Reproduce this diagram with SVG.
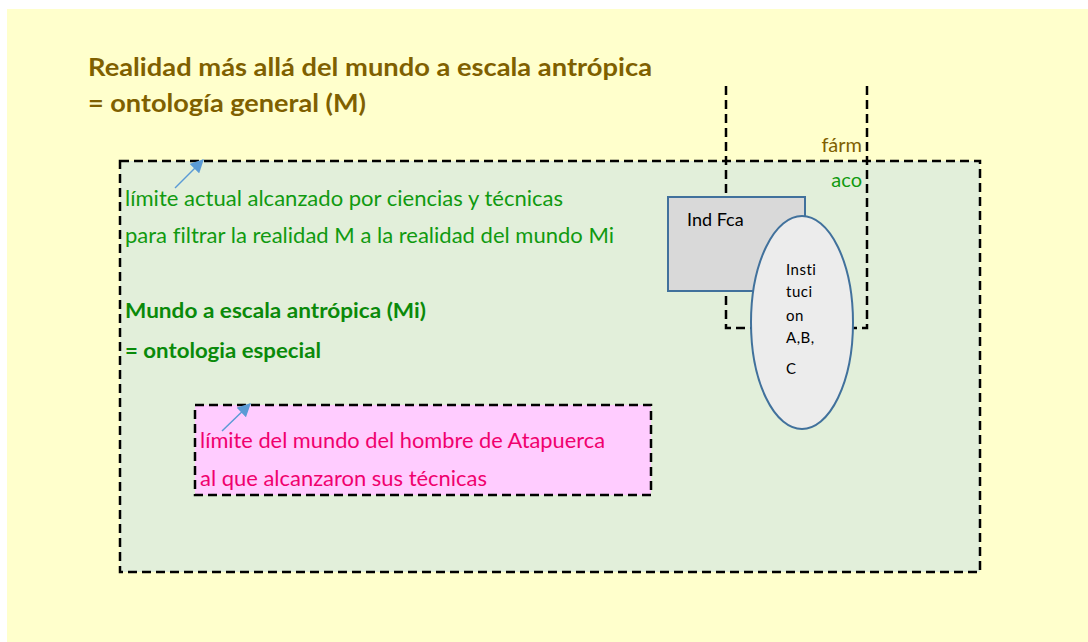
<svg xmlns="http://www.w3.org/2000/svg" width="1088" height="642" viewBox="0 0 1088 642">
<style>
.dash{fill:none;stroke:#000;stroke-width:2.5;stroke-dasharray:9 5}
.t{font-family:Lato,"Liberation Sans",sans-serif;font-variant-ligatures:none}
.title{font-size:25px;font-weight:bold;fill:#7f6000}
.g{font-size:21px;fill:#109a10}
.gb{font-size:21px;font-weight:bold;fill:#0a8a0a}
.p{font-size:21px;fill:#f0006e}
.sm{font-size:15px;fill:#000;letter-spacing:0.5px}
.arr{stroke:#5b9bd5;stroke-width:1.5;fill:none}
</style>
<defs>
<marker id="ah" viewBox="0 0 10 10" refX="9" refY="5" markerWidth="9" markerHeight="9" orient="auto" markerUnits="strokeWidth">
<path d="M0,0 L10,5 L0,10 z" fill="#5b9bd5"/>
</marker>
</defs>
<rect x="7" y="9" width="1081" height="633" fill="#ffffcc"/>
<g id="title">
<text class="t title" x="88" y="76" textLength="564" lengthAdjust="spacingAndGlyphs">Realidad más allá del mundo a escala antrópica</text>
<text class="t title" x="88" y="112" textLength="278" lengthAdjust="spacingAndGlyphs">= ontología general (M)</text>
</g>
<g id="mundo">
<rect x="120" y="161" width="860" height="411" fill="#e2efda"/>
<rect class="dash" x="120" y="161" width="860" height="411"/>
<text class="t g" x="125" y="206" textLength="438" lengthAdjust="spacingAndGlyphs">límite actual alcanzado por ciencias y técnicas</text>
<text class="t g" x="125" y="243" textLength="489" lengthAdjust="spacingAndGlyphs">para filtrar la realidad M a la realidad del mundo Mi</text>
<text class="t gb" x="125" y="318" textLength="301" lengthAdjust="spacingAndGlyphs">Mundo a escala antrópica (Mi)</text>
<text class="t gb" x="125" y="358" textLength="196" lengthAdjust="spacingAndGlyphs">= ontologia especial</text>
</g>
<g id="atapuerca">
<rect x="195" y="405" width="456" height="90" fill="#ffccff"/>
<rect class="dash" x="195" y="405" width="456" height="90"/>
<text class="t p" x="200" y="448" textLength="405" lengthAdjust="spacingAndGlyphs">límite del mundo del hombre de Atapuerca</text>
<text class="t p" x="200" y="486" textLength="287" lengthAdjust="spacingAndGlyphs">al que alcanzaron sus técnicas</text>
</g>
<g id="farmaco">
<path class="dash" d="M726,86 V328 H867 V86"/>
<text class="t" x="862" y="152" text-anchor="end" font-size="20" fill="#7f6000">fárm</text>
<text class="t" x="862" y="187" text-anchor="end" font-size="20" fill="#109a10">aco</text>
</g>
<g id="indfca">
<rect x="668" y="197" width="137" height="94" fill="#d9d9d9" stroke="#41719c" stroke-width="2"/>
<text class="t" x="687" y="226" font-size="18" fill="#000">Ind Fca</text>
</g>
<g id="institucion">
<ellipse cx="802" cy="322.5" rx="51" ry="106.5" fill="#ececec" stroke="#41719c" stroke-width="2"/>
<text class="t sm" x="786" y="275">Insti</text>
<text class="t sm" x="786" y="297">tuci</text>
<text class="t sm" x="786" y="321">on</text>
<text class="t sm" x="786" y="343">A,B,</text>
<text class="t sm" x="786" y="374">C</text>
</g>
<g id="connectors">
<line class="arr" x1="175" y1="188" x2="203" y2="160" marker-end="url(#ah)"/>
<line class="arr" x1="222" y1="431" x2="250" y2="404" marker-end="url(#ah)"/>
</g>
</svg>
